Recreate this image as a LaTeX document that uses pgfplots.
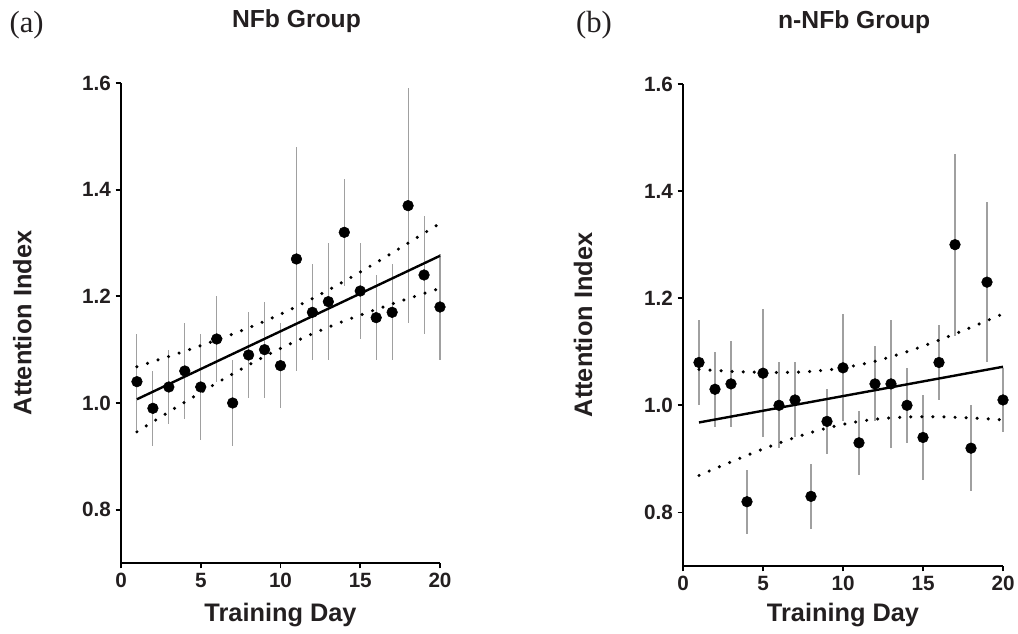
\documentclass[border=0pt]{standalone}
\usepackage{pgfplots}
\pgfplotsset{compat=1.18}
\usepackage{fontspec}
\setmainfont{Liberation Sans}
\newfontfamily\seriffont{Liberation Serif}
\definecolor{txt}{HTML}{231F20}
\definecolor{errc}{HTML}{A0A0A0}

\pgfplotsset{panel/.style={
  scale only axis,
  xmin=0,xmax=20,ymin=0.7,ymax=1.6,
  axis lines*=left,
  axis line style={line width=1.6pt, black},
  tick align=outside, major tick length=4pt,
  tick style={line width=1.4pt,black},
  xtick={0,5,10,15,20}, ytick={0.8,1.0,1.2,1.4,1.6},
  xticklabel={\pgfmathprintnumber[assume math mode=true]{\tick}},
  yticklabel={\pgfmathprintnumber[fixed,fixed zerofill,precision=1,assume math mode=true]{\tick}},
  ticklabel style={font=\bfseries\fontsize{15.5}{18}\selectfont, text=txt},
  label style={font=\bfseries\fontsize{19}{22}\selectfont, text=txt},
  xlabel style={anchor=center},
  ylabel style={anchor=center},
  every axis title shift=0pt,
  clip=false,
},
pts/.style={only marks, mark=*, black, mark size=4pt, mark options={fill=black, draw=black},
  error bars/.cd, y dir=both, y explicit, error mark=none,
  error bar style={errc, line width=0.8pt}},
fit/.style={black, line width=1.8pt, no marks},
band/.style={black, line width=2.6pt, line cap=round, dash pattern=on 0pt off 8.3pt, no marks},
}

\pgfplotstableread{
x y e
1 1.04 0.09
2 0.99 0.07
3 1.03 0.07
4 1.06 0.09
5 1.03 0.10
6 1.12 0.08
7 1.00 0.08
8 1.09 0.08
9 1.10 0.09
10 1.07 0.08
11 1.27 0.21
12 1.17 0.09
13 1.19 0.11
14 1.32 0.10
15 1.21 0.09
16 1.16 0.08
17 1.17 0.09
18 1.37 0.22
19 1.24 0.11
20 1.18 0.10
}\nfbdata

\pgfplotstableread{
x y e
1 1.08 0.08
2 1.03 0.07
3 1.04 0.08
4 0.82 0.06
5 1.06 0.12
6 1.00 0.08
7 1.01 0.07
8 0.83 0.06
9 0.97 0.06
10 1.07 0.10
11 0.93 0.06
12 1.04 0.07
13 1.04 0.12
14 1.00 0.07
15 0.94 0.08
16 1.08 0.07
17 1.30 0.17
18 0.92 0.08
19 1.23 0.15
20 1.01 0.06
}\nnfbdata

\pgfplotstableread{
x up lo
1 1.0680 0.9460
2 1.0776 0.9648
3 1.0873 0.9833
4 1.0973 1.0017
5 1.1075 1.0197
6 1.1182 1.0374
7 1.1293 1.0547
8 1.1409 1.0713
9 1.1533 1.0873
10 1.1665 1.1023
11 1.1807 1.1165
12 1.1958 1.1298
13 1.2117 1.1421
14 1.2284 1.1538
15 1.2456 1.1648
16 1.2633 1.1755
17 1.2814 1.1858
18 1.2997 1.1957
19 1.3183 1.2055
20 1.3370 1.2150
}\nfbband

\pgfplotstableread{
x up lo
1 1.0670 0.8690
2 1.0651 0.8819
3 1.0634 0.8944
4 1.0622 0.9066
5 1.0614 0.9184
6 1.0613 0.9295
7 1.0617 0.9399
8 1.0633 0.9493
9 1.0659 0.9577
10 1.0699 0.9645
11 1.0754 0.9700
12 1.0823 0.9741
13 1.0906 0.9766
14 1.1000 0.9782
15 1.1105 0.9787
16 1.1216 0.9786
17 1.1333 0.9777
18 1.1455 0.9765
19 1.1581 0.9749
20 1.1709 0.9729
}\nnfbband

\begin{document}
\begin{tikzpicture}
\path[use as bounding box] (0,0) rectangle (763.5pt,475.5pt);

\begin{axis}[panel, at={(90.75pt,53.25pt)}, anchor=south west,
  width=239.25pt, height=360pt,
  title={NFb Group},
  title style={font=\bfseries\fontsize{18.5}{20}\selectfont, text=txt, at={(axis description cs:0.55,1.128)}, anchor=center},
  xlabel={Training Day}, xlabel style={at={(axis description cs:0.5,-0.108)}},
  ylabel={Attention Index}, ylabel style={at={(axis description cs:-0.309,0.5)}}]
\addplot[pts] table[x=x,y=y,y error=e]{\nfbdata};
\addplot[fit] coordinates {(1,1.007) (20,1.276)};
\addplot[band] table[x=x,y=up]{\nfbband};
\addplot[band] table[x=x,y=lo]{\nfbband};
\end{axis}

\begin{axis}[panel, at={(512.25pt,51pt)}, anchor=south west,
  width=240pt, height=361.5pt,
  title={n-NFb Group},
  title style={font=\bfseries\fontsize{18.5}{20}\selectfont, text=txt, at={(axis description cs:0.535,1.129)}, anchor=center},
  xlabel={Training Day}, xlabel style={at={(axis description cs:0.5,-0.102)}},
  ylabel={Attention Index}, ylabel style={at={(axis description cs:-0.3125,0.5)}}]
\addplot[pts] table[x=x,y=y,y error=e]{\nnfbdata};
\addplot[fit] coordinates {(1,0.968) (20,1.072)};
\addplot[band] table[x=x,y=up]{\nnfbband};
\addplot[band] table[x=x,y=lo]{\nnfbband};
\end{axis}

\node[font=\seriffont\fontsize{23}{25}\selectfont, text=txt] at (20pt,457pt) {(a)};
\node[font=\seriffont\fontsize{23}{25}\selectfont, text=txt] at (445.5pt,457pt) {(b)};
\end{tikzpicture}
\end{document}
